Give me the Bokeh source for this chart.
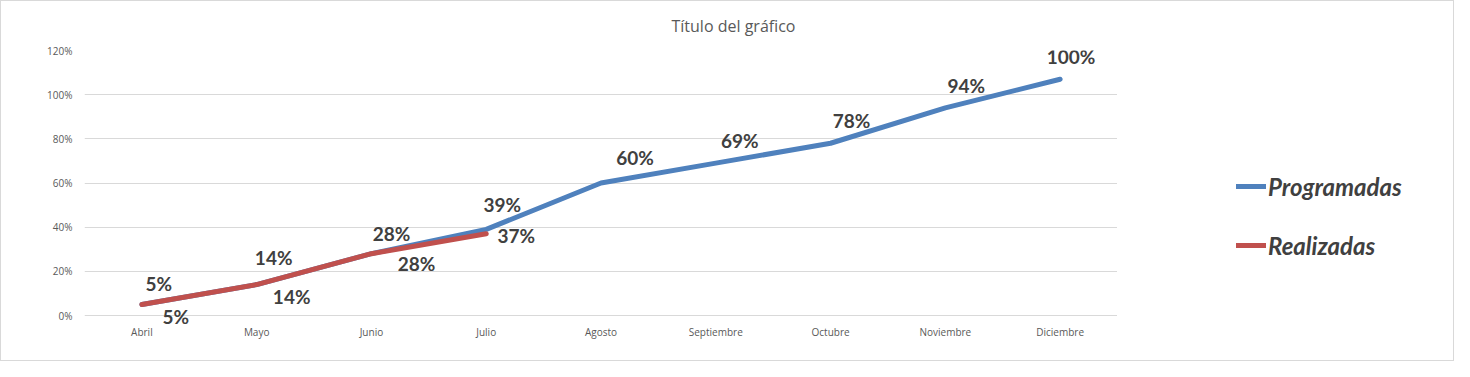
from bokeh.plotting import figure
from bokeh.layouts import row
from bokeh.models import ColumnDataSource, FactorRange, Range1d, FixedTicker, NumeralTickFormatter, Legend, LegendItem, LabelSet
from bokeh.core.properties import value
from bokeh.embed import file_html
from bokeh.resources import INLINE

months = ["Abril", "Mayo", "Junio", "Julio", "Agosto", "Septiembre", "Octubre", "Noviembre", "Diciembre"]
programadas = [0.05, 0.14, 0.28, 0.39, 0.60, 0.69, 0.78, 0.94, 1.07]
programadas_labels = ["5%", "14%", "28%", "39%", "60%", "69%", "78%", "94%", "100%"]
realizadas_months = ["Abril", "Mayo", "Junio", "Julio"]
realizadas = [0.05, 0.14, 0.28, 0.37]
realizadas_labels = ["5%", "14%", "28%", "37%"]
y_ticks = [0, 0.2, 0.4, 0.6, 0.8, 1.0, 1.2]

# label placement (style, pixels; y up)
prog_dx = [17, 17, 20, 16, 34, 24, 21, 21, 11]
prog_dy = [21, 27, 20, 25, 26, 23, 23, 22, 23]
real_dx = [34, 35, 45, 30]
real_dy = [-12, -12, -10, -2]

BLUE = "#4F81BD"
RED = "#C0504D"
TXT = "#404040"
AX = "#595959"

# frame: 1.2 at top, 0 at 265 px below; 9 px extra room below 0 for labels
y_bottom = -9 * 1.2 / 265

p = figure(width=1116, height=359, x_range=FactorRange(*months, range_padding=0),
           y_range=Range1d(y_bottom, 1.2), output_backend="svg", toolbar_location=None,
           min_border_left=83, min_border_right=0, min_border_top=49, min_border_bottom=36)
p.outline_line_color = None
p.background_fill_color = "white"

p.title.text = "Título del gráfico"
p.title.align = "left"
p.title.offset = 587
p.title.standoff = 23
p.title.vertical_align = "top"
p.title.text_font = "Open Sans"
p.title.text_font_style = "normal"
p.title.text_font_size = "16px"
p.title.text_color = AX

p.xgrid.grid_line_color = None
p.ygrid.grid_line_color = "#D9D9D9"
p.ygrid.ticker = FixedTicker(ticks=y_ticks)

p.yaxis.ticker = FixedTicker(ticks=y_ticks)
p.yaxis.formatter = NumeralTickFormatter(format="0%")
for ax in (p.xaxis, p.yaxis):
    ax.axis_line_color = None
    ax.major_tick_line_color = None
    ax.minor_tick_line_color = None
    ax.major_tick_out = 0
    ax.major_tick_in = 0
    ax.minor_tick_out = 0
    ax.major_label_text_font = "Open Sans"
    ax.major_label_text_font_size = "10px"
    ax.major_label_text_color = AX
p.yaxis.major_label_standoff = 12
p.xaxis.major_label_standoff = 0

src_p = ColumnDataSource(dict(x=months, y=programadas, lab=programadas_labels, dx=prog_dx, dy=prog_dy))
src_r = ColumnDataSource(dict(x=realizadas_months, y=realizadas, lab=realizadas_labels, dx=real_dx, dy=real_dy))

p.line("x", "y", source=src_p, line_color=BLUE, line_width=5, line_cap="round", line_join="round")
p.line("x", "y", source=src_r, line_color=RED, line_width=5, line_cap="round", line_join="round")

for src in (src_p, src_r):
    p.add_layout(LabelSet(x="x", y="y", text="lab", x_offset="dx", y_offset="dy", source=src,
                          text_align="center", text_baseline="middle", text_font=value("Lato"),
                          text_font_style="bold", text_font_size="19px", text_color=TXT))

# legend panel (second canvas to the right of the plot area)
pl = figure(width=336, height=359, x_range=Range1d(0, 1), y_range=Range1d(0, 1),
            output_backend="svg", toolbar_location=None,
            x_axis_location=None, y_axis_location=None,
            min_border_left=0, min_border_right=0, min_border_top=0, min_border_bottom=0)
pl.grid.visible = False
pl.outline_line_color = None
nan = float("nan")
lp = pl.line(x=[nan], y=[nan], line_color=BLUE, line_width=5, line_cap="round")
lr = pl.line(x=[nan], y=[nan], line_color=RED, line_width=5, line_cap="round")

legend = Legend(items=[LegendItem(label="Programadas", renderers=[lp]),
                       LegendItem(label="Realizadas", renderers=[lr])],
                location=(119, 64), orientation="vertical",
                glyph_width=30, glyph_height=30, label_height=30, spacing=29,
                label_standoff=2, padding=0, margin=0,
                label_text_font="Lato", label_text_font_style="bold italic",
                label_text_font_size="24px", label_text_color=TXT,
                border_line_color=None, background_fill_alpha=0)
pl.add_layout(legend, "center")

layout = row(p, pl, spacing=0)
layout.styles = {"border": "1px solid #d9d9d9"}

open("out.html", "w").write(file_html(layout, INLINE))
